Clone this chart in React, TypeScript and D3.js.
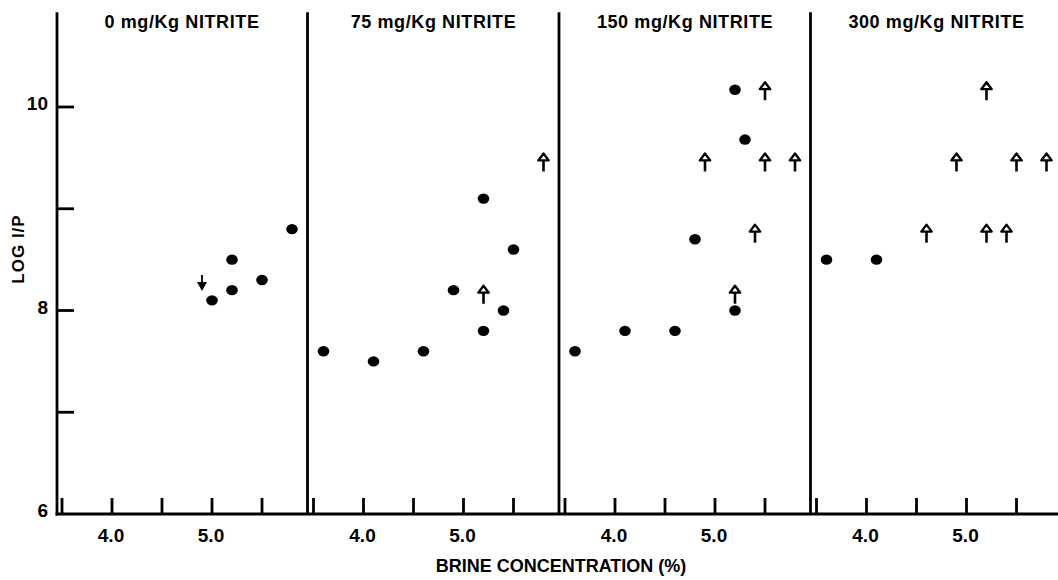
import React from "react";
import * as d3 from "d3";

// ---- data (brine %, log I/P) ----
const panelTitles = ["0 mg/Kg NITRITE", "75 mg/Kg NITRITE", "150 mg/Kg NITRITE", "300 mg/Kg NITRITE"];

// filled dots
const dotBrine0 = [5.0, 5.2, 5.2, 5.5, 5.8];
const dotLog0 = [8.1, 8.2, 8.5, 8.3, 8.8];
const dotBrine75 = [3.6, 4.1, 4.6, 4.9, 5.2, 5.2, 5.4, 5.5];
const dotLog75 = [7.6, 7.5, 7.6, 8.2, 9.1, 7.8, 8.0, 8.6];
const dotBrine150 = [3.6, 4.1, 4.6, 4.8, 5.2, 5.3, 5.2];
const dotLog150 = [7.6, 7.8, 7.8, 8.7, 10.17, 9.68, 8.0];
const dotBrine300 = [3.6, 4.1];
const dotLog300 = [8.5, 8.5];

// open up arrows (greater than)
const upBrine0: number[] = [];
const upLog0: number[] = [];
const upBrine75 = [5.2, 5.8];
const upLog75 = [8.16, 9.46];
const upBrine150 = [4.9, 5.5, 5.5, 5.8, 5.4, 5.2];
const upLog150 = [9.46, 10.16, 9.46, 9.46, 8.76, 8.16];
const upBrine300 = [4.6, 4.9, 5.2, 5.2, 5.4, 5.5, 5.8];
const upLog300 = [8.76, 9.46, 10.16, 8.76, 8.76, 9.46, 9.46];

// filled down arrows (less than)
const downBrine0 = [4.9];
const downLog0 = [8.26];

const xTicks = [3.5, 4.0, 4.5, 5.0, 5.5];
const xTickLabels = [4.0, 5.0];
const yTicks = [7, 8, 9, 10];
const yTickLabels = [6, 8, 10];

const dotsBrine = [dotBrine0, dotBrine75, dotBrine150, dotBrine300];
const dotsLog = [dotLog0, dotLog75, dotLog150, dotLog300];
const upsBrine = [upBrine0, upBrine75, upBrine150, upBrine300];
const upsLog = [upLog0, upLog75, upLog150, upLog300];

const W = 1058;
const H = 580;
const FONT = "'Liberation Sans', Arial, Helvetica, sans-serif";

export default function App() {
  const y = d3.scaleLinear().domain([6, 11]).range([514, 5.25]);
  const panelX0 = (i: number) => 57 + i * 251.5;
  const xScales = panelTitles.map((_, i) =>
    d3.scaleLinear().domain([3.45, 5.95]).range([panelX0(i), panelX0(i) + 250])
  );
  const axisY = y(6);
  const topY = y(10.93);
  const sw = 2.8;

  const upArrow = (cx: number, cy: number, key: string) => (
    <g key={key} transform={`translate(${cx},${cy})`}>
      <line x1={0} y1={-2} x2={0} y2={9.5} stroke="#000" strokeWidth={2.6} />
      <path d="M0,-8.5 L5.2,-1.5 L-5.2,-1.5 Z" fill="#fff" stroke="#000" strokeWidth={2.3} strokeLinejoin="round" />
    </g>
  );

  const downArrow = (cx: number, cy: number, key: string) => (
    <g key={key} transform={`translate(${cx},${cy})`}>
      <line x1={0} y1={-9} x2={0} y2={0} stroke="#000" strokeWidth={1.8} />
      <path d="M-5,-2 L5,-2 L0,7 Z" fill="#000" />
    </g>
  );

  return (
    <svg width={W} height={H} style={{ position: "absolute", left: 0, top: 0, background: "#fff" }} fontFamily={FONT}>
      <rect x={0} y={0} width={W} height={H} fill="#fff" />
      {/* left axis */}
      <line x1={57} y1={topY} x2={57} y2={axisY + sw / 2} stroke="#000" strokeWidth={sw} />
      {/* bottom axis */}
      <line x1={57 - sw / 2} y1={axisY} x2={W} y2={axisY} stroke="#000" strokeWidth={sw} />
      {/* y ticks */}
      {yTicks.map((t) => (
        <line key={"yt" + t} x1={57} y1={y(t)} x2={74} y2={y(t)} stroke="#000" strokeWidth={sw} />
      ))}
      {yTickLabels.map((t) => (
        <text key={"yl" + t} x={48} y={y(t) + 3} textAnchor="end" fontSize={19} fontWeight="bold" fill="#000">
          {t}
        </text>
      ))}
      <text
        transform={`translate(24,249) rotate(-90)`}
        textAnchor="middle"
        fontSize={17}
        fontWeight="bold"
        fill="#000"
        letterSpacing={1}
      >
        LOG I/P
      </text>

      {panelTitles.map((title, i) => {
        const x = xScales[i];
        const x0 = panelX0(i);
        return (
          <g key={title}>
            {i > 0 && (
              <line x1={x0 - 1} y1={topY} x2={x0 - 1} y2={axisY} stroke="#000" strokeWidth={sw} />
            )}
            <text
              x={x0 + 125}
              y={28}
              textAnchor="middle"
              fontSize={18}
              fontWeight="bold"
              fill="#000"
              letterSpacing={0.6}
            >
              {title}
            </text>
            {xTicks.map((t) => (
              <line key={"xt" + t} x1={x(t)} y1={axisY} x2={x(t)} y2={axisY - 16} stroke="#000" strokeWidth={sw} />
            ))}
            {xTickLabels.map((t) => (
              <text key={"xl" + t} x={x(t) - 1} y={542} textAnchor="middle" fontSize={19} fontWeight="bold" fill="#000">
                {t.toFixed(1)}
              </text>
            ))}
            {dotsBrine[i].map((b, j) => (
              <ellipse key={"d" + j} cx={x(b)} cy={y(dotsLog[i][j])} rx={5.8} ry={5.2} fill="#000" />
            ))}
            {upsBrine[i].map((b, j) => upArrow(x(b), y(upsLog[i][j]), "u" + j))}
            {i === 0 && downBrine0.map((b, j) => downArrow(x(b), y(downLog0[j]), "dn" + j))}
          </g>
        );
      })}

      <text x={561} y={572} textAnchor="middle" fontSize={18} fontWeight="bold" fill="#000">
        BRINE CONCENTRATION (%)
      </text>
    </svg>
  );
}
